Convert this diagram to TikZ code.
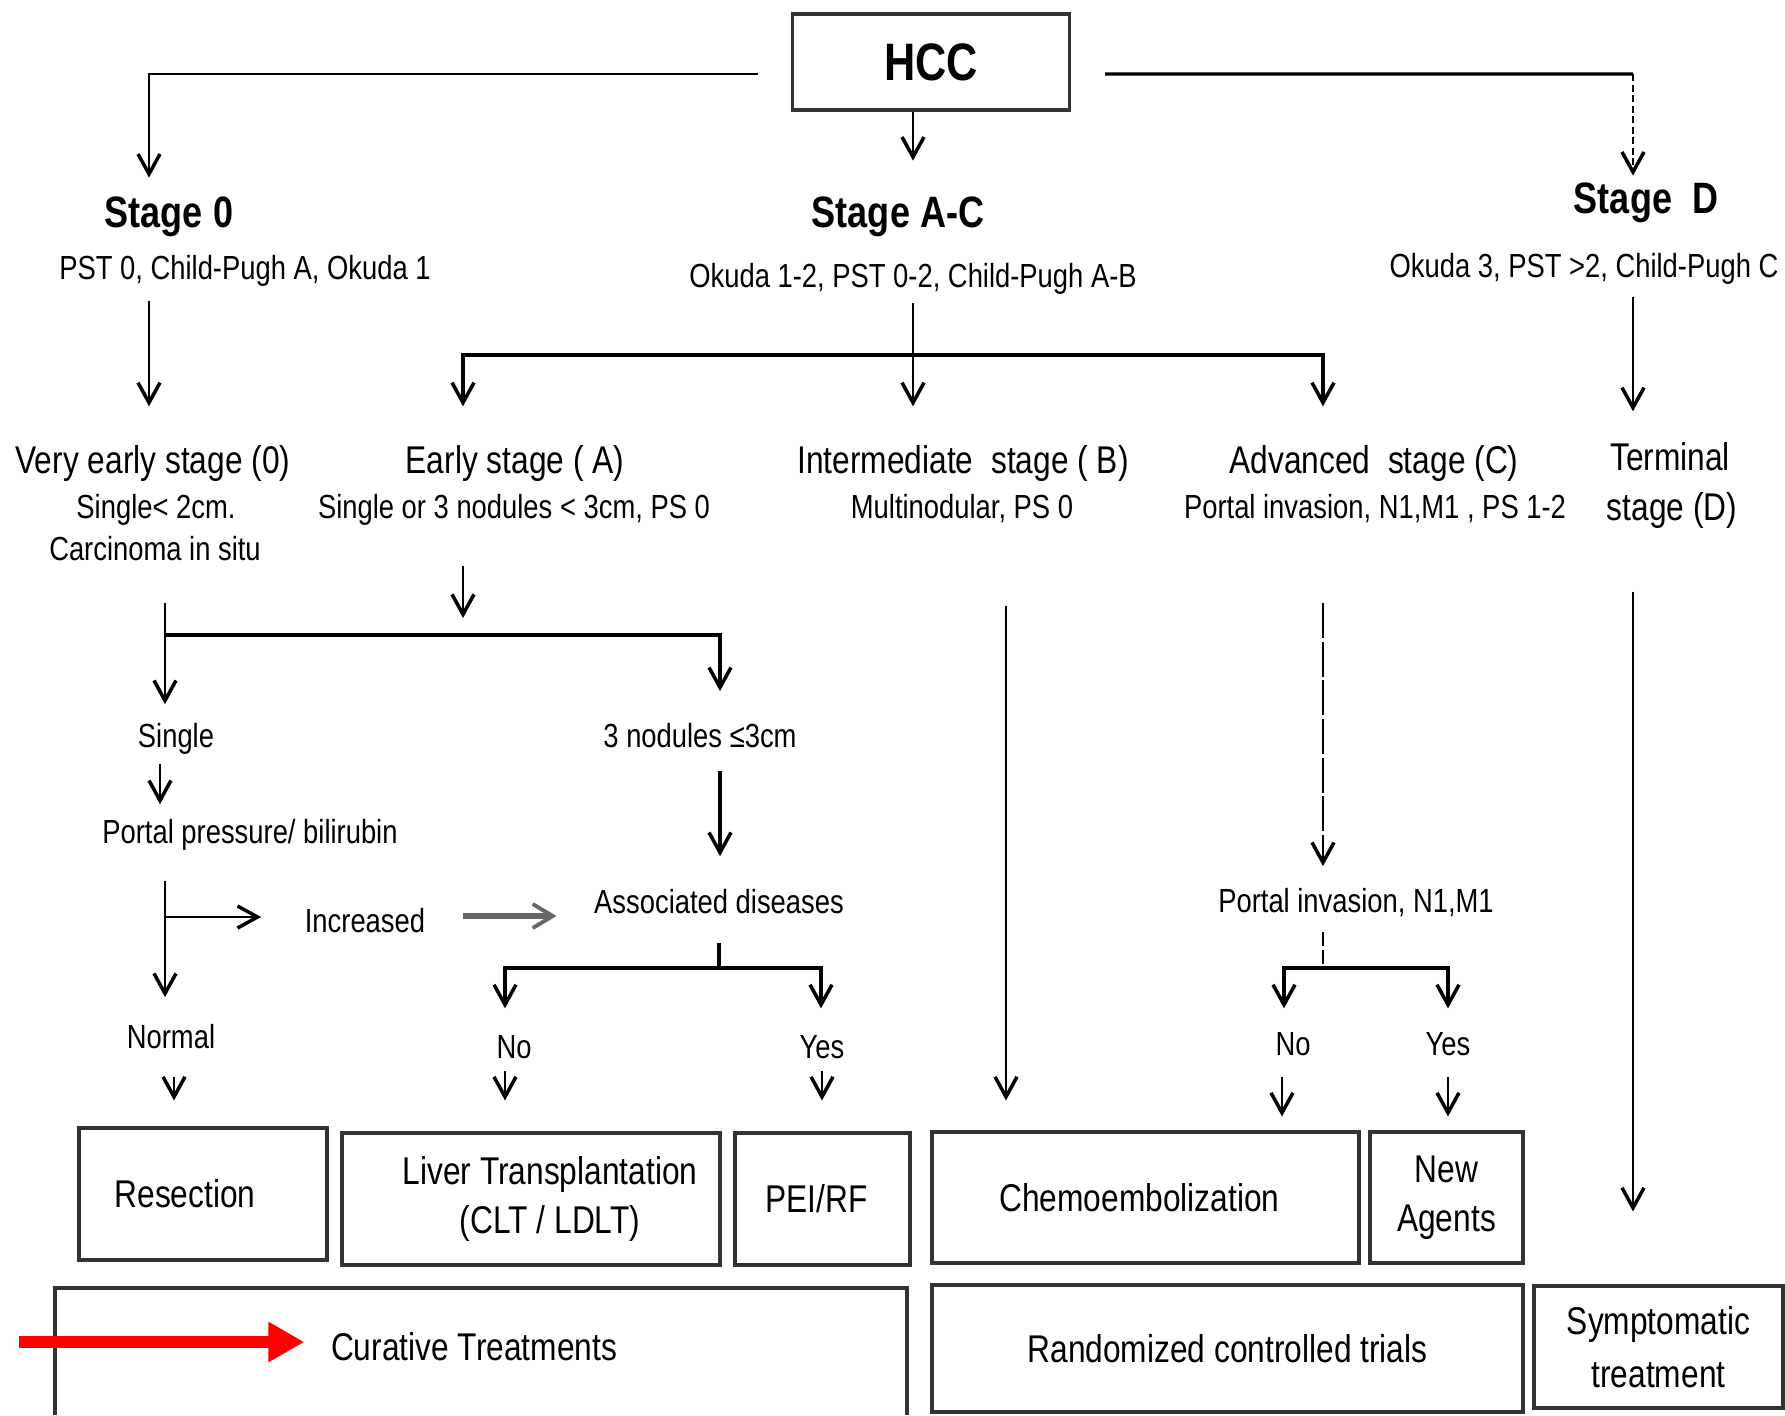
\documentclass[tikz,border=0pt]{standalone}
\usepackage{fontspec}
\setmainfont{Liberation Sans}[FakeStretch=0.82]
\usetikzlibrary{arrows.meta}
\begin{document}
\begin{tikzpicture}[x=0.1mm,y=-0.1mm,
  lab/.style={font=\fontsize{11}{13}\selectfont, anchor=base, inner sep=0pt},
  sub/.style={font=\fontsize{9.5}{12}\selectfont, anchor=base, inner sep=0pt},
  head/.style={font=\fontsize{12.5}{15}\selectfont\bfseries, anchor=base, inner sep=0pt},
  box/.style={draw=black!80, line width=0.9pt, inner sep=0pt, align=center, font=\fontsize{11}{14}\selectfont},
  conn/.style={line width=0.6pt, draw=black},
  arr/.style={conn, -{Straight Barb[length=2mm,width=2.2mm,line width=1pt]}},
  thinarr/.style={arr, line width=0.45pt, dash pattern=on 10pt off 1pt},
  bar/.style={line width=1.1pt},
  redarr/.style={draw=red, line width=1.2mm, -{Triangle[length=3.6mm,width=3.8mm]}},
  grayarr/.style={draw=black!60, line width=1.6pt, -{Straight Barb[length=2mm,width=2.4mm,line width=1.1pt]}},
]
\useasboundingbox[fill=white] (0,0) rectangle (1785,1415);

% top
\node[box, minimum width=27.7mm, minimum height=9.6mm, font=\fontsize{15}{18}\selectfont\bfseries] (hcc) at (931,62) {HCC};

\node[head] (s0) at (169,227) {Stage 0};
\node[head] (sac) at (898,227) {Stage A-C};
\node[head] (sd) at (1646,213) {Stage\ \ D};
\node[sub] (s0sub) at (245,279) {PST 0, Child-Pugh A, Okuda 1};
\node[sub] (sacsub) at (913,287) {Okuda 1-2, PST 0-2, Child-Pugh A-B};
\node[sub] (sdsub) at (1584,277) {Okuda 3, PST >2, Child-Pugh C};

% stages
\node[lab] (ve1) at (153,473) {Very early stage (0)};
\node[sub] (ve2) at (156,518) {Single< 2cm.};
\node[sub] (ve3) at (155,560) {Carcinoma in situ};
\node[lab] (early) at (515,473) {Early stage ( A)};
\node[sub] (esub) at (514,518) {Single or 3 nodules < 3cm, PS 0};
\node[lab] (interm) at (963,473) {Intermediate\ \ stage ( B)};
\node[sub] (isub) at (962,518) {Multinodular, PS 0};
\node[lab] (adv) at (1374,473) {Advanced\ \ stage (C)};
\node[sub] (asub) at (1375,518) {Portal invasion, N1,M1 , PS 1-2};
\node[lab] (term1) at (1670,470) {Terminal};
\node[lab] (term2) at (1672,520) {stage (D)};

% lower decision texts
\node[sub] (single) at (176,747) {Single};
\node[sub] (nod3) at (700,747) {3 nodules ≤3cm};
\node[sub] (pp) at (250,843) {Portal pressure/ bilirubin};
\node[sub] (incr) at (365,932) {Increased};
\node[sub] (assoc) at (719,913) {Associated diseases};
\node[sub] (normal) at (171,1048) {Normal};
\node[sub] (no1) at (514,1058) {No};
\node[sub] (yes1) at (822,1058) {Yes};
\node[sub] (pinv) at (1356,912) {Portal invasion, N1,M1};
\node[sub] (no2) at (1293,1055) {No};
\node[sub] (yes2) at (1448,1055) {Yes};

% treatment boxes
\node[box, minimum width=24.8mm, minimum height=13.2mm] (res) at (203,1194) {\hspace*{-3.6mm}Resection};
\node[box, minimum width=37.8mm, minimum height=13.2mm] (liver) at (531,1199) {\hspace*{3.8mm}Liver Transplantation\\\hspace*{3.8mm}(CLT / LDLT)};
\node[box, minimum width=17.5mm, minimum height=13.2mm] (pei) at (822.5,1199) {\hspace*{-1.2mm}PEI/RF};
\node[box, minimum width=42.7mm, minimum height=13.1mm] (chemo) at (1145.5,1197.5) {\hspace*{-1.2mm}Chemoembolization};
\node[box, minimum width=15.3mm, minimum height=13.1mm] (newag) at (1446.5,1197.5) {New\\Agents};
\node[box, minimum width=59.1mm, minimum height=12.7mm] (rct) at (1227.5,1348.5) {Randomized controlled trials};
\node[box, minimum width=24.9mm, minimum height=12.2mm, font=\fontsize{11}{15}\selectfont] (symp) at (1658.5,1347) {Symptomatic\\treatment};
\draw[draw=black!80, line width=0.9pt] (55,1415) -- (55,1288) -- (907,1288) -- (907,1415);
\node[lab] (curtext) at (474,1360) {Curative Treatments};

% connectors from HCC
\draw[arr, line width=0.8pt, shorten >=1.8mm] ([shift={(-3.3mm,-1.2mm)}]hcc.west) -| (s0.north -| 149,0);
\coordinate (rc) at (1633,74);
\draw[conn, line width=0.9pt] ([shift={(3.4mm,-1.2mm)}]hcc.east) -- (rc);
\draw[arr, line width=0.5pt, dash pattern=on 2pt off 1pt, shorten >=0.6mm] (rc) -- (sd.north -| rc);
\draw[arr, line width=0.8pt, shorten >=3.5mm] (hcc.south -| 913,0) -- (sac.north -| 913,0);

% stage level
\draw[arr, shorten <=1.4mm, shorten >=3.8mm] (s0sub.south -| 149,0) -- (ve1.north -| 149,0);
\draw[arr, line width=0.8pt, shorten <=0.8mm, shorten >=3.8mm] (sacsub.south -| 913,0) -- (interm.north -| 913,0);
\coordinate (acbar) at (913,355);
\draw[arr, bar, shorten >=3.8mm] (acbar) -| (early.north -| 463,0);
\draw[arr, bar, shorten >=3.8mm] (acbar) -| (adv.north -| 1323,0);
\draw[arr, shorten <=1.2mm, shorten >=3mm] (sdsub.south -| 1633,0) -- (term1.north -| 1633,0);

% early / very early branch
\coordinate (etip) at (463,618);
\draw[arr, shorten <=4mm] (esub.south -| 463,0) -- (etip);
\draw[arr, shorten <=4.2mm, shorten >=1.8mm] (ve3.south -| 165,0) -- (single.north -| 165,0);
\coordinate (bar0) at (165,635);
\draw[arr, bar, shorten >=3.1mm] (bar0) -| (nod3.north -| 720,0);
\draw[arr, shorten <=0.9mm, shorten >=1.4mm] (single.south -| 160,0) -- (pp.north -| 160,0);
\draw[arr, line width=0.9pt, shorten <=2.3mm, shorten >=3.2mm] (nod3.south -| 720,0) -- (assoc.north -| 720,0);
\draw[arr, line width=0.8pt, shorten <=3mm, shorten >=2.6mm] (pp.south -| 165,0) -- (normal.north -| 165,0);
\coordinate (ppbr) at (165,917);
\draw[arr, shorten >=4.3mm] (ppbr) -- (ppbr -| incr.west);
\draw[grayarr, shorten <=3.7mm, shorten >=3.7mm] (incr.east |- 0,916) -- (assoc.west |- 0,916);
\coordinate (adbar) at (719,968);
\draw[conn, line width=0.9pt, shorten <=2.9mm] (assoc.south -| 719,0) -- (adbar);
\draw[arr, bar, shorten >=2.6mm] (adbar) -| (no1.north -| 505,0);
\draw[arr, bar, shorten >=2.6mm] (adbar) -| (yes1.north -| 821,0);
\draw[arr, shorten <=2.8mm, shorten >=2.6mm] (normal.south -| 174,0) -- (res.north -| 174,0);
\draw[arr, shorten <=1.2mm, shorten >=3.1mm] (no1.south -| 505,0) -- (liver.north -| 505,0);
\draw[arr, shorten <=1.2mm, shorten >=3.1mm] (yes1.south -| 822,0) -- (pei.north -| 822,0);

% intermediate / advanced / terminal
\draw[arr, shorten <=8.3mm, shorten >=3mm] (isub.south -| 1006,0) -- (chemo.north -| 1006,0);
\draw[thinarr, shorten <=8mm, shorten >=2.1mm] (asub.south -| 1323,0) -- (pinv.north -| 1323,0);
\coordinate (pvbar) at (1323,968);
\draw[conn, line width=0.45pt, dash pattern=on 4pt off 1pt, shorten <=1.5mm] (pinv.south -| 1323,0) -- (pvbar);
\draw[arr, bar, shorten >=2.3mm] (pvbar) -| (no2.north -| 1284,0);
\draw[arr, bar, shorten >=2.3mm] (pvbar) -| (yes2.north -| 1448,0);
\draw[arr, shorten <=2.1mm, shorten >=1.4mm] (no2.south -| 1282,0) -- (chemo.north -| 1282,0);
\draw[arr, shorten <=2.1mm, shorten >=1.4mm] (yes2.south -| 1448,0) -- (newag.north -| 1448,0);
\draw[arr, shorten <=6.3mm, shorten >=7.3mm] (term2.south -| 1633,0) -- (symp.north -| 1633,0);

% red arrow
\coordinate (redstart) at (19,1342);
\draw[redarr, shorten >=2.6mm] (redstart) -- (redstart -| curtext.west);
\end{tikzpicture}
\end{document}
